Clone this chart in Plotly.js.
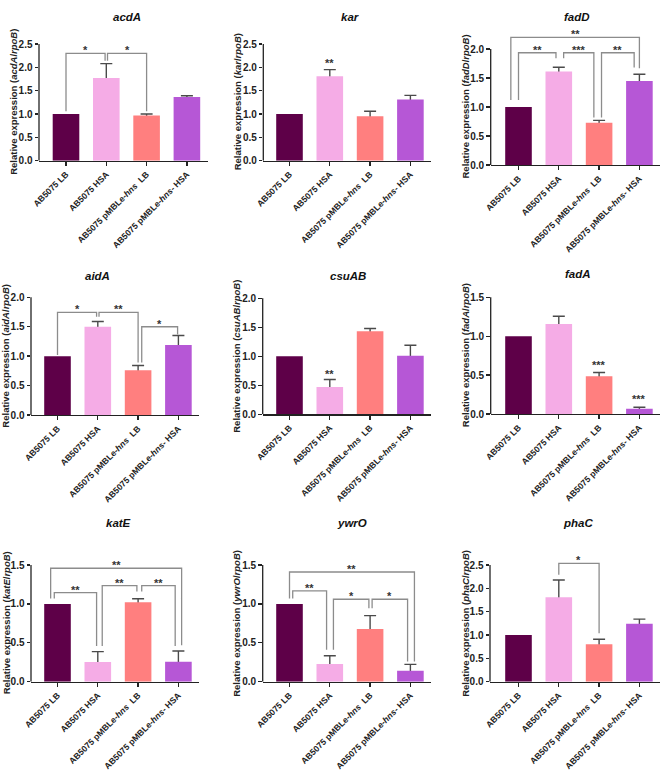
<!DOCTYPE html>
<html>
<head>
<meta charset="utf-8">
<script src="https://cdn.plot.ly/plotly-3.0.1.min.js"></script>
<style>html,body{margin:0;padding:0;background:#fff;}#chart{width:668px;height:771px;}</style>
</head>
<body>
<div id="chart"></div>
<script>
// ---------- DATA ----------
const genes = ['acdA', 'kar', 'fadD', 'aidA', 'csuAB', 'fadA', 'katE', 'ywrO', 'phaC'];
const categories = ['AB5075 LB', 'AB5075 HSA', 'AB5075 pMBLe-<i>hns</i>\u00a0 LB', 'AB5075 pMBLe-<i>hns</i>- HSA'];
const barColors = ['#5E0048', '#F5ACE6', '#FF7F7F', '#B657D6'];
const yAxisTop = [2.5, 2.5, 2.0, 2.0, 2.0, 1.5, 1.5, 1.5, 2.5];
const tickStep = 0.5;

const acdA_mean = [1.00, 1.77, 0.97, 1.365];
const acdA_sd   = [0, 0.31, 0.03, 0.025];
const kar_mean  = [1.00, 1.81, 0.95, 1.31];
const kar_sd    = [0, 0.14, 0.11, 0.09];
const fadD_mean = [1.00, 1.61, 0.73, 1.45];
const fadD_sd   = [0, 0.075, 0.04, 0.115];
const aidA_mean = [1.00, 1.50, 0.76, 1.19];
const aidA_sd   = [0, 0.09, 0.08, 0.16];
const csuAB_mean = [1.00, 0.47, 1.43, 1.01];
const csuAB_sd   = [0, 0.13, 0.05, 0.18];
const fadA_mean = [1.00, 1.156, 0.486, 0.069];
const fadA_sd   = [0, 0.10, 0.047, 0.017];
const katE_mean = [1.00, 0.253, 1.02, 0.257];
const katE_sd   = [0, 0.133, 0.047, 0.137];
const ywrO_mean = [1.00, 0.227, 0.677, 0.141];
const ywrO_sd   = [0, 0.107, 0.172, 0.082];
const phaC_mean = [1.00, 1.81, 0.80, 1.24];
const phaC_sd   = [0, 0.37, 0.11, 0.10];

// brackets: [leftX, rightX, lineY, leftLegEndY, rightLegEndY, label]
const acdA_brackets = [[0, 0.97, 2.30, 1.06, 2.14, '*'], [1.03, 2.0, 2.30, 2.14, 1.06, '*']];
const kar_brackets = [];
const fadD_brackets = [[-0.19, 3.0, 2.20, 1.12, 1.67, '**'], [0, 0.93, 1.935, 1.12, 1.84, '**'],
                       [1.12, 1.87, 1.935, 1.84, 0.82, '***'], [2.06, 2.87, 1.935, 0.82, 1.68, '**']];
const aidA_brackets = [[0, 0.97, 1.745, 1.02, 1.67, '*'], [1.03, 2.0, 1.745, 1.67, 0.89, '**'],
                       [2.09, 2.98, 1.50, 0.89, 1.37, '*']];
const csuAB_brackets = [];
const fadA_brackets = [];
const katE_brackets = [[-0.17, 3.08, 1.458, 1.07, 0.47, '**'], [-0.08, 0.97, 1.145, 1.07, 0.46, '**'],
                       [1.11, 1.97, 1.235, 0.46, 1.16, '**'], [2.09, 2.92, 1.235, 1.16, 0.46, '**']];
const ywrO_brackets = [[0, 3.1, 1.41, 1.07, 0.26, '**'], [0.08, 0.92, 1.167, 1.07, 0.41, '**'],
                       [1.09, 1.97, 1.06, 0.41, 0.945, '*'], [2.05, 2.93, 1.06, 0.945, 0.26, '*']];
const phaC_brackets = [[1.0, 2.0, 2.535, 2.29, 1.04, '*']];

// significance marks over single bars: [categoryIndex, y (centre of mark), label]
const acdA_marks = [];
const kar_marks = [[1, 2.13, '**']];
const fadD_marks = [];
const aidA_marks = [];
const csuAB_marks = [[1, 0.72, '**']];
const fadA_marks = [[2, 0.66, '***'], [3, 0.22, '***']];
const katE_marks = [];
const ywrO_marks = [];
const phaC_marks = [];

const means = [acdA_mean, kar_mean, fadD_mean, aidA_mean, csuAB_mean, fadA_mean, katE_mean, ywrO_mean, phaC_mean];
const sds = [acdA_sd, kar_sd, fadD_sd, aidA_sd, csuAB_sd, fadA_sd, katE_sd, ywrO_sd, phaC_sd];
const brackets = [acdA_brackets, kar_brackets, fadD_brackets, aidA_brackets, csuAB_brackets, fadA_brackets, katE_brackets, ywrO_brackets, phaC_brackets];
const marks = [acdA_marks, kar_marks, fadD_marks, aidA_marks, csuAB_marks, fadA_marks, katE_marks, ywrO_marks, phaC_marks];

// ---------- LAYOUT GEOMETRY (pixels) ----------
const W = 668, H = 771, S = 40.3, HEAD = 30;
const geo = [
  {ax: 39,    c0: 66,    zero: 160.7, top: 44,    tx: 127, ty: 17,  ytx: 13.5},
  {ax: 263.3, c0: 289.5, zero: 160.7, top: 44,    tx: 350, ty: 17,  ytx: 237},
  {ax: 490.7, c0: 518.5, zero: 165,   top: 49,    tx: 577, ty: 17,  ytx: 465.5},
  {ax: 31,    c0: 57.5,  zero: 415,   top: 297.3, tx: 97,  ty: 276, ytx: 5.5},
  {ax: 262.7, c0: 289.5, zero: 414.2, top: 298.3, tx: 348, ty: 276, ytx: 236.5},
  {ax: 490.7, c0: 518.5, zero: 414,   top: 297.3, tx: 578, ty: 274, ytx: 465.5},
  {ax: 31,    c0: 57.5,  zero: 681.7, top: 565,   tx: 118, ty: 523, ytx: 6},
  {ax: 262.7, c0: 289.5, zero: 681.7, top: 565,   tx: 352, ty: 523, ytx: 236.5},
  {ax: 490,   c0: 518.5, zero: 681.7, top: 565,   tx: 578, ty: 523, ytx: 465.5}
];

const FONT = 'Liberation Sans, Arial, Helvetica, sans-serif';
const AXC = '#222222';
const BRC = '#8c8c8c';

const data = [];
const layout = {
  width: W, height: H,
  margin: {l: 0, r: 0, t: 0, b: 0},
  showlegend: false,
  barmode: 'overlay',
  paper_bgcolor: '#ffffff',
  plot_bgcolor: 'rgba(0,0,0,0)',
  font: {family: FONT, color: AXC},
  shapes: [],
  annotations: []
};

genes.forEach((g, i) => {
  const sfx = i === 0 ? '' : String(i + 1);
  const xa = 'x' + sfx, ya = 'y' + sfx;
  const G = geo[i];
  const yTop = yAxisTop[i];
  const endX = G.c0 + 3 * S + 21;
  const domTopPx = G.top - HEAD;
  const yMax = yTop * (G.zero - domTopPx) / (G.zero - G.top);

  // error bars (drawn behind the bars, Prism style)
  data.push({
    type: 'bar', x: categories, y: means[i], xaxis: xa, yaxis: ya,
    width: 0.66, marker: {color: 'rgba(0,0,0,0)'}, hoverinfo: 'skip',
    error_y: {type: 'data', array: sds[i].map(v => v > 0 ? v : NaN), symmetric: true,
              color: '#4a4a4a', thickness: 1.4, width: 6}
  });
  data.push({
    type: 'bar', x: categories, y: means[i], xaxis: xa, yaxis: ya,
    width: 0.66, marker: {color: barColors, line: {width: 0}}
  });

  const ticks = [];
  for (let v = 0; v <= yTop + 1e-9; v += tickStep) ticks.push(+v.toFixed(2));

  layout['xaxis' + sfx] = {
    domain: [G.ax / W, endX / W], range: [-(G.c0 - G.ax) / S, 3 + 21 / S],
    type: 'category', anchor: ya, showline: true, linecolor: AXC, linewidth: 1.3,
    ticks: 'outside', ticklen: 4, tickwidth: 1.3, tickcolor: AXC, tickangle: -45,
    tickfont: {family: FONT, size: 8.6, color: AXC, weight: 'bold'},
    showgrid: false, zeroline: false, fixedrange: true
  };
  layout['yaxis' + sfx] = {
    domain: [1 - G.zero / H, 1 - domTopPx / H], range: [0, yMax],
    anchor: xa, showline: false, ticks: 'outside', ticklen: 3.5, tickwidth: 1.3, tickcolor: AXC,
    tickmode: 'array', tickvals: ticks, ticktext: ticks.map(v => v.toFixed(1)),
    tickfont: {family: FONT, size: 10, color: AXC, weight: 'bold'},
    showgrid: false, zeroline: false, fixedrange: true
  };

  // y axis line only up to the top tick
  layout.shapes.push({type: 'line', xref: xa + ' domain', x0: 0, x1: 0, yref: ya, y0: 0, y1: yTop,
                      line: {color: AXC, width: 1.3}, layer: 'above'});

  // brackets
  brackets[i].forEach(b => {
    const [x0, x1, yl, y0, y1, lab] = b;
    layout.shapes.push({type: 'path', xref: xa, yref: ya,
      path: `M ${x0},${y0} L ${x0},${yl} L ${x1},${yl} L ${x1},${y1}`,
      line: {color: BRC, width: 1.3}});
    layout.annotations.push({xref: xa, yref: ya, x: (x0 + x1) / 2, y: yl, text: lab,
      showarrow: false, yanchor: 'middle', yshift: 3,
      font: {family: FONT, size: 11, color: '#333', weight: 'bold'}});
  });
  marks[i].forEach(m => {
    layout.annotations.push({xref: xa, yref: ya, x: m[0], y: m[1], text: m[2],
      showarrow: false, yanchor: 'middle', yshift: -2,
      font: {family: FONT, size: 11, color: '#333', weight: 'bold'}});
  });

  // panel title
  layout.annotations.push({xref: 'paper', yref: 'paper', x: G.tx / W, y: 1 - G.ty / H,
    text: '<b><i>' + g + '</i></b>', showarrow: false, xanchor: 'center', yanchor: 'middle',
    font: {family: FONT, size: 11.5, color: '#111'}});
  // y axis title
  layout.annotations.push({xref: 'paper', yref: 'paper', x: G.ytx / W, y: 1 - ((G.zero + G.top) / 2) / H,
    text: 'Relative expression (<i>' + g + '</i>/<i>rpoB</i>)', textangle: -90,
    showarrow: false, xanchor: 'center', yanchor: 'middle',
    font: {family: FONT, size: 9.5, color: AXC, weight: 'bold'}});
});

Plotly.newPlot('chart', data, layout, {staticPlot: true, displayModeBar: false});
</script>
</body>
</html>
